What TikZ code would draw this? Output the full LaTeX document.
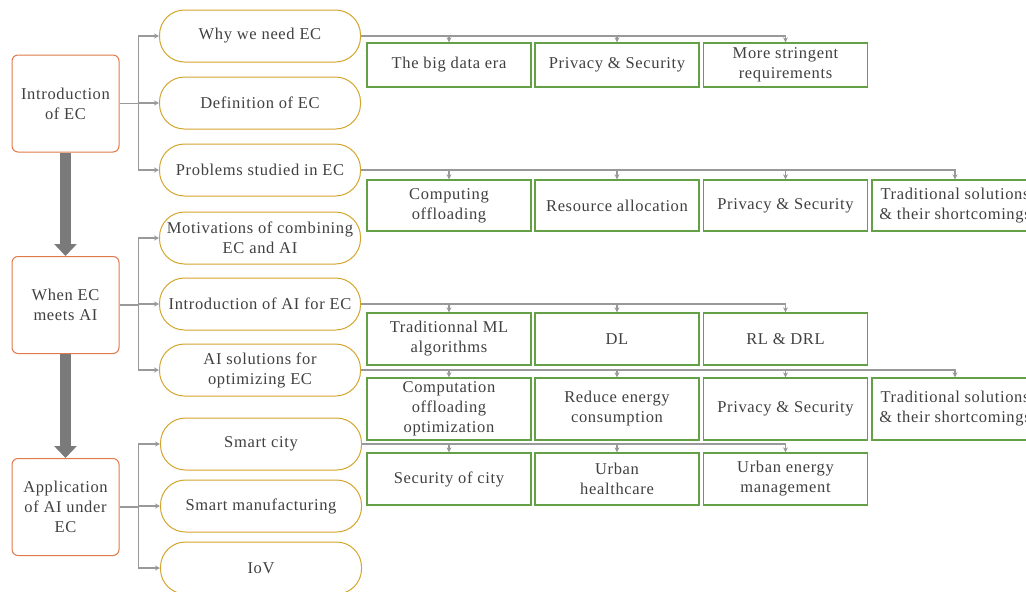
\documentclass[tikz,border=0pt]{standalone}
\usepackage{fontspec}
\setmainfont{Liberation Serif}[LetterSpace=4]
\usetikzlibrary{arrows.meta}
\definecolor{orangeb}{HTML}{E07A4A}
\definecolor{goldb}{HTML}{D4A52C}
\definecolor{greenb}{HTML}{64A046}
\definecolor{txt}{HTML}{404040}
\definecolor{conn}{HTML}{999999}
\definecolor{bigc}{HTML}{7A7A7A}
\begin{document}
\begin{tikzpicture}[x=1pt,y=-1pt,
  every node/.style={font=\fontsize{16.5}{20}\selectfont, text=txt, align=center, inner sep=0pt},
  orangebox/.style={draw=orangeb, line width=1pt, rounded corners=6pt, minimum width=107pt, minimum height=97pt},
  pill/.style={draw=goldb, line width=1pt, rounded corners=25pt, minimum width=201pt, minimum height=52pt},
  greenbox/.style={draw=greenb, line width=1.3pt, minimum width=164pt},
  arr/.style={draw=conn, line width=1.2pt, -{Stealth[length=5pt,width=5pt]}},
  bigarr/.style={draw=bigc, line width=11pt, -{Triangle[length=12pt,width=22pt]}}
]
\useasboundingbox (0,0) rectangle (1026,592);
\clip (0,0) rectangle (1026,592);

% left column
\node[orangebox] (intro) at (65.5,103.5) {Introduction\\of EC};
\node[orangebox] (when) at (65.5,305) {When EC\\meets AI};
\node[orangebox] (app) at (65.5,507) {Application\\of AI under\\EC};

\draw[bigarr] (intro.south) -- (when.north);
\draw[bigarr] (when.south) -- (app.north);

% pills
\node[pill] (why) at (260,36) {Why we need EC};
\node[pill] (def) at (260,103) {Definition of EC};
\node[pill] (prob) at (260,170) {Problems studied in EC};
\node[pill] (motiv) at (260,238) {Motivations of combining\\EC and AI};
\node[pill] (introai) at (260,304) {Introduction of AI for EC};
\node[pill] (aisol) at (260,370) {AI solutions for\\optimizing EC};
\node[pill] (city) at (261,444) {Smart city};
\node[pill] (manu) at (261,506) {Smart manufacturing};
\node[pill] (iov) at (261,568) {IoV};

\foreach \p in {why,def,prob} \draw[arr] (intro.east) -- ++(19,0) |- (\p.west);
\foreach \p in {motiv,introai,aisol} \draw[arr] (when.east) -- ++(19,0) |- (\p.west);
\foreach \p in {city,manu,iov} \draw[arr] (app.east) -- ++(19,0) |- (\p.west);

% row 1
\begin{scope}[every node/.append style={greenbox, minimum height=44pt}]
\node (a1) at (449,65) {The big data era};
\node (a2) at (617,65) {Privacy \& Security};
\node (a3) at (785.5,65) {More stringent\\requirements};
\end{scope}
% row 2
\begin{scope}[every node/.append style={greenbox, minimum height=51pt}]
\node (b1) at (449,205.5) {Computing\\offloading};
\node (b2) at (617,205.5) {Resource allocation};
\node (b3) at (785.5,205.5) {Privacy \& Security};
\node[minimum width=166pt] (b4) at (955,205.5) {Traditional solutions\\\& their shortcomings};
\end{scope}
% row 3
\begin{scope}[every node/.append style={greenbox, minimum height=52pt}]
\node (c1) at (449,339) {Traditionnal ML\\algorithms};
\node (c2) at (617,339) {DL};
\node (c3) at (785.5,339) {RL \& DRL};
\end{scope}
% row 4
\begin{scope}[every node/.append style={greenbox, minimum height=62pt}]
\node (d1) at (449,409) {Computation\\offloading\\optimization};
\node (d2) at (617,409) {Reduce energy\\consumption};
\node (d3) at (785.5,409) {Privacy \& Security};
\node[minimum width=166pt] (d4) at (955,409) {Traditional solutions\\\& their shortcomings};
\end{scope}
% row 5
\begin{scope}[every node/.append style={greenbox, minimum height=52pt}]
\node (e1) at (449,479) {Security of city};
\node (e2) at (617,479) {Urban\\healthcare};
\node (e3) at (785.5,479) {Urban energy\\management};
\end{scope}

\foreach \g in {a1,a2,a3} \draw[arr] (why.east) -| (\g.north);
\foreach \g in {b1,b2,b3,b4} \draw[arr] (prob.east) -| (\g.north);
\foreach \g in {c1,c2,c3} \draw[arr] (introai.east) -| (\g.north);
\foreach \g in {d1,d2,d3,d4} \draw[arr] (aisol.east) -| (\g.north);
\foreach \g in {e1,e2,e3} \draw[arr] (city.east) -| (\g.north);
\end{tikzpicture}
\end{document}
